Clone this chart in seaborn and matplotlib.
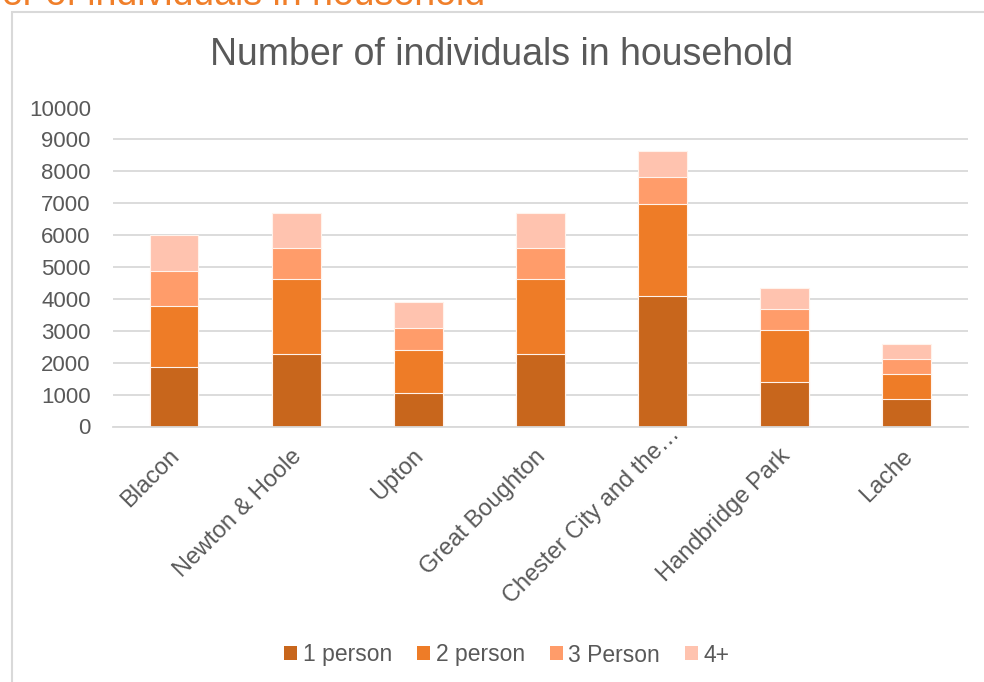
import numpy as np
import pandas as pd
import matplotlib
matplotlib.use("Agg")
import matplotlib.pyplot as plt
import matplotlib.transforms as mtrans
from matplotlib.patches import Patch, Rectangle
import seaborn as sns

# Data
areas = ['Blacon', 'Newton & Hoole', 'Upton', 'Great Boughton',
         'Chester City and the…', 'Handbridge Park', 'Lache']
one_person = [1880, 2270, 1060, 2270, 4090, 1380, 850]
two_person = [1910, 2340, 1340, 2340, 2870, 1630, 810]
three_person = [1100, 1000, 680, 1000, 850, 680, 470]
four_plus = [1110, 1090, 830, 1090, 830, 650, 460]
series_names = ['1 person', '2 person', '3 Person', '4+']
colors = ['#C8661C', '#EE7C27', '#FF9C6A', '#FFC3AF']
y_ticks = [0, 1000, 2000, 3000, 4000, 5000, 6000, 7000, 8000, 9000, 10000]

df = pd.DataFrame({'area': areas, '1 person': one_person, '2 person': two_person,
                   '3 Person': three_person, '4+': four_plus})
cum = df[series_names].cumsum(axis=1)
cum['area'] = df['area']

sns.set_style('white')
plt.rcParams['font.family'] = ['Liberation Sans', 'DejaVu Sans']
grey = '#595959'

fig = plt.figure(figsize=(9.84, 6.82), dpi=100)
ax = fig.add_axes([113 / 984, 1 - 426.5 / 682, (968 - 113) / 984, (426.5 - 107.5) / 682])

# stacked bars: draw cumulative totals from the top layer down
for name, col in reversed(list(zip(series_names, colors))):
    sns.barplot(data=cum, x='area', y=name, order=areas, color=col, saturation=1,
                width=0.4, edgecolor='#FFF3EC', linewidth=0.8, ax=ax)

ax.set_xlim(-0.5, len(areas) - 0.5)
ax.set_ylim(0, 10000)
ax.set_yticks(y_ticks)
ax.set_yticklabels([str(v) for v in y_ticks])
ax.set_xlabel('')
ax.set_ylabel('')
ax.yaxis.grid(True, color='#D9D9D9', lw=1.3)
ax.set_axisbelow(True)
for s in ['top', 'left', 'right']:
    ax.spines[s].set_visible(False)
ax.spines['bottom'].set_color('#D9D9D9')
ax.spines['bottom'].set_linewidth(1.3)
ax.tick_params(axis='both', length=0, labelsize=16, labelcolor=grey)
ax.tick_params(axis='y', pad=16)

ax.set_xticks(range(len(areas)))
ax.set_xticklabels(areas, rotation=45, ha='right', va='center', rotation_mode='anchor',
                   fontsize=17)
ax.tick_params(axis='x', pad=19)
for lbl in ax.get_xticklabels():
    # the truncated label sits a bit higher in the original
    dx, dy = (14, 22) if lbl.get_text().endswith('…') else (2, 0)
    offset = mtrans.ScaledTranslation(dx / 100, dy / 100, fig.dpi_scale_trans)
    lbl.set_transform(lbl.get_transform() + offset)

# titles
fig.text(502 / 984, 1 - 55 / 682, 'Number of individuals in household',
         ha='center', va='center', fontsize=27, color=grey)
fig.text(485 / 984, 1 - 5 / 682, 'Number of individuals in household',
         ha='right', va='baseline', fontsize=27, color='#F07F2A')

# chart area border
fig.add_artist(Rectangle((12 / 984, -0.05), 1.0, 1 - 12 / 682 + 0.05,
                         transform=fig.transFigure, fill=False,
                         edgecolor='#D9D9D9', lw=1.5))

handles = [Patch(facecolor=c, edgecolor='none') for c in colors]
fig.legend(handles, series_names, loc='center', bbox_to_anchor=(507 / 984, 1 - 655 / 682),
           ncol=4, frameon=False, fontsize=16.5, labelcolor=grey,
           handlelength=0.55, handleheight=0.55, handletextpad=0.25, columnspacing=1.1)

fig.savefig('out.png', dpi=100)
